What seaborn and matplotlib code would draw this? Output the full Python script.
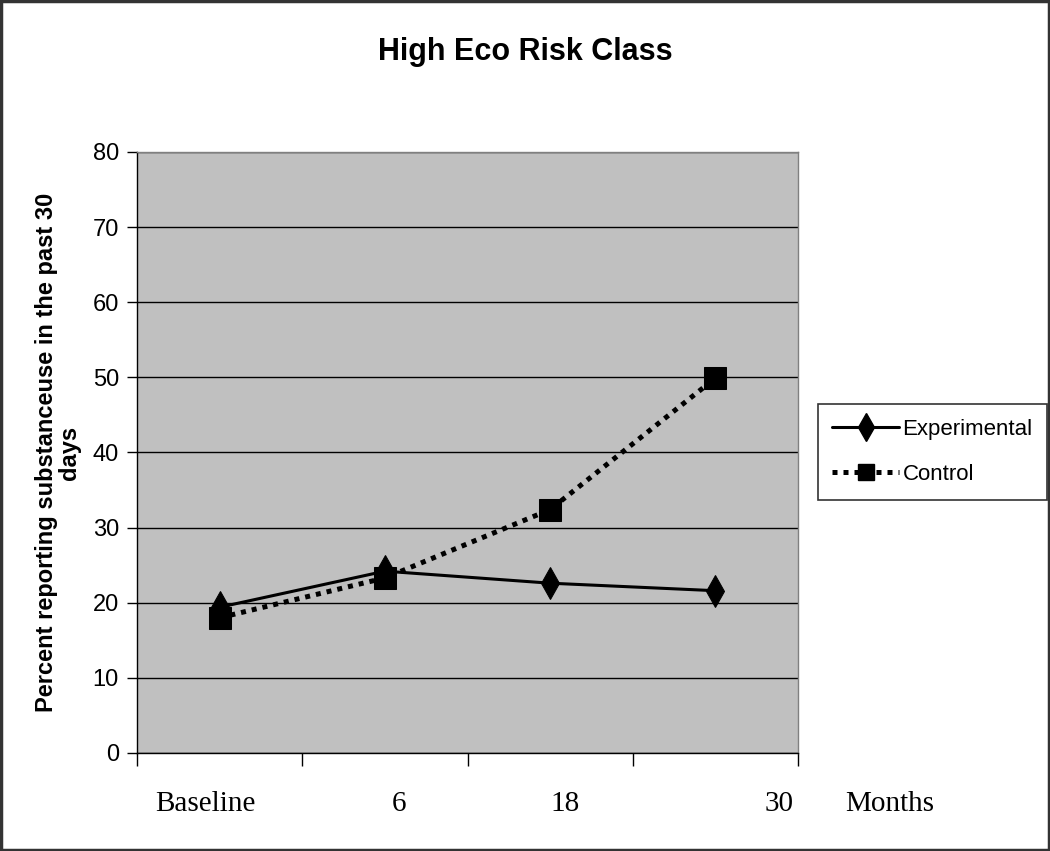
import pandas as pd
import matplotlib.pyplot as plt
import seaborn as sns
from matplotlib.patches import Rectangle
from matplotlib.lines import Line2D

# data
timepoints = ['Baseline', '6', '18', '30']
experimental = [19.4, 24.2, 22.6, 21.6]
control = [18.0, 23.3, 32.4, 49.9]
bottom_labels = ['Baseline', '6', '18', '30', 'Months']
bottom_label_x = [0.103, 0.396, 0.648, 0.971, 1.139]

df = pd.DataFrame({
    'pos': list(range(len(timepoints))) * 2,
    'value': experimental + control,
    'group': ['Experimental'] * len(timepoints) + ['Control'] * len(timepoints),
})

sns.set_style('white')
plt.rcParams['font.family'] = ['Liberation Sans', 'DejaVu Sans']
plt.rcParams['text.color'] = 'black'
plt.rcParams['axes.labelcolor'] = 'black'

fig = plt.figure(figsize=(10.5, 8.51), dpi=100)
ax = fig.add_axes([0.1305, 0.1152, 0.6295, 0.7062])
ax.set_facecolor('#c0c0c0')

sns.lineplot(data=df, x='pos', y='value', hue='group', style='group',
             hue_order=['Control', 'Experimental'], style_order=['Control', 'Experimental'],
             palette={'Experimental': 'black', 'Control': 'black'},
             markers={'Experimental': 'd', 'Control': 's'},
             dashes={'Experimental': '', 'Control': (1.0, 1.2)},
             linewidth=3.6, markersize=16, markeredgecolor='black', ax=ax, legend=False)
# solid line a bit thinner than the dotted one
for line in ax.get_lines():
    if line.get_linestyle() == '-':
        line.set_linewidth(2.2)

ax.set_ylim(0, 80)
ax.set_xlim(-0.5, 3.5)
ax.set_yticks(range(0, 81, 10))
ax.set_xticks([-0.5, 0.5, 1.5, 2.5, 3.5])
ax.set_xticklabels([])
ax.yaxis.grid(True, color='black', linewidth=1)
ax.set_axisbelow(True)
ax.tick_params(axis='y', direction='out', length=7, width=1, colors='black', labelsize=17, pad=6, left=True)
ax.tick_params(axis='x', direction='out', length=9, width=1, colors='black', bottom=True)
for s in ['left', 'bottom']:
    ax.spines[s].set_color('black')
    ax.spines[s].set_linewidth(1)
for s in ['top', 'right']:
    ax.spines[s].set_color('#808080')
    ax.spines[s].set_linewidth(1)

ax.set_xlabel('')
ax.set_ylabel('Percent reporting substanceuse in the past 30\ndays',
              fontsize=17, fontweight='bold', labelpad=8, linespacing=1.0)

for lab, xp in zip(bottom_labels, bottom_label_x):
    ax.text(xp, -0.085, lab, transform=ax.transAxes, ha='center', va='center',
            fontsize=21, family='Liberation Serif')

fig.text(0.5, 0.939, 'High Eco Risk Class', ha='center', va='center',
         fontsize=22, fontweight='bold')

# legend
handles = [
    Line2D([], [], color='black', lw=2.2, marker='d', markersize=14),
    Line2D([], [], color='black', lw=3.6, linestyle=(0, (1.0, 1.2)), marker='s', markersize=12),
]
leg = fig.legend(handles, ['Experimental', 'Control'], loc='center left',
                 bbox_to_anchor=(0.779, 0.469), fontsize=16, frameon=True,
                 fancybox=False, edgecolor='black', handlelength=3.0,
                 borderpad=0.65, labelspacing=1.1, handletextpad=0.15,
                 borderaxespad=0)
leg.get_frame().set_linewidth(1.2)

fig.add_artist(Rectangle((0.001, 0.001), 0.998, 0.998, transform=fig.transFigure,
                         fill=False, edgecolor='#333333', linewidth=2.5))

fig.savefig('out.png', dpi=100)
